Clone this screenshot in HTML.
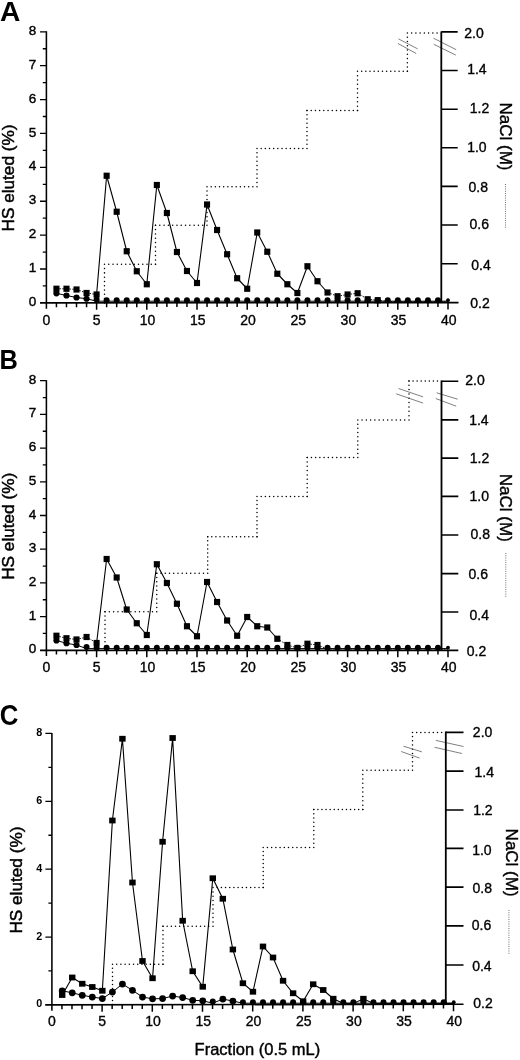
<!DOCTYPE html>
<html lang="en"><head><meta charset="utf-8"><title>HS elution profiles</title>
<style>html,body{margin:0;padding:0;background:#fff}svg{display:block}text{font-family:'Liberation Sans', sans-serif;fill:#000}</style>
</head><body>
<svg width="520" height="1060" viewBox="0 0 520 1060" style="will-change:transform">
<rect width="520" height="1060" fill="#fff"/>
<g>
<text transform="translate(0.1 21) scale(1.06 1.067)" font-size="26.6" font-weight="bold">A</text>
<g fill="none" stroke="#000" stroke-width="1.5" stroke-linecap="round"><path d="M104.5 302.9L104.5 264.3" stroke-dasharray="0.01 4.279"/><path d="M104.5 264.3L155.5 264.3" stroke-dasharray="0.01 4.240"/><path d="M155.5 264.3L155.5 225.2" stroke-dasharray="0.01 4.334"/><path d="M155.5 225.2L207 225.2" stroke-dasharray="0.01 4.282"/><path d="M207 225.2L207 186.8" stroke-dasharray="0.01 4.257"/><path d="M207 186.8L257 186.8" stroke-dasharray="0.01 4.157"/><path d="M257 186.8L257 148.5" stroke-dasharray="0.01 4.246"/><path d="M257 148.5L307 148.5" stroke-dasharray="0.01 4.157"/><path d="M307 148.5L307 110.5" stroke-dasharray="0.01 4.212"/><path d="M307 110.5L357.5 110.5" stroke-dasharray="0.01 4.198"/><path d="M357.5 110.5L357.5 71.3" stroke-dasharray="0.01 4.346"/><path d="M357.5 71.3L407.4 71.3" stroke-dasharray="0.01 4.148"/><path d="M407.4 71.3L407.4 33" stroke-dasharray="0.01 4.246"/><path d="M407.4 33L441.3 33" stroke-dasharray="0.01 4.228"/></g>
<line x1="433.5" y1="38.2" x2="456.2" y2="49.7" stroke="#555" stroke-width="0.75"/>
<line x1="433.8" y1="44.3" x2="455.8" y2="55.1" stroke="#555" stroke-width="0.75"/>
<line x1="398.5" y1="38.9" x2="417.7" y2="48.9" stroke="#555" stroke-width="0.75"/>
<line x1="398" y1="43.5" x2="416.2" y2="53.5" stroke="#555" stroke-width="0.75"/>
<line x1="46.4" y1="31.3" x2="46.4" y2="308.7" stroke="#000" stroke-width="1.55"/>
<line x1="40" y1="302.9" x2="458.5" y2="302.6" stroke="#000" stroke-width="1.65"/>
<line x1="441.3" y1="31.4" x2="441.3" y2="302.9" stroke="#000" stroke-width="1.8"/>
<path d="M42.8 285.96H46.4M40 269.01H46.4M42.8 252.07H46.4M40 235.12H46.4M42.8 218.18H46.4M40 201.24H46.4M42.8 184.29H46.4M40 167.35H46.4M42.8 150.41H46.4M40 133.46H46.4M42.8 116.52H46.4M40 99.57H46.4M42.8 82.63H46.4M40 65.69H46.4M42.8 48.74H46.4M40 31.8H46.4" stroke="#000" stroke-width="1.3" fill="none"/>
<path d="M56.44 302.89V307.19M66.48 302.88V307.18M76.52 302.87V307.17M86.56 302.87V307.17M96.6 302.86V309.86M106.64 302.85V307.15M116.68 302.85V307.15M126.72 302.84V307.14M136.76 302.83V307.13M146.8 302.82V309.82M156.84 302.82V307.12M166.88 302.81V307.11M176.92 302.8V307.1M186.96 302.79V307.09M197 302.79V309.79M207.04 302.78V307.08M217.08 302.77V307.07M227.12 302.77V307.07M237.16 302.76V307.06M247.2 302.75V309.75M257.24 302.74V307.04M267.28 302.74V307.04M277.32 302.73V307.03M287.36 302.72V307.02M297.4 302.72V309.72M307.44 302.71V307.01M317.48 302.7V307M327.52 302.69V306.99M337.56 302.69V306.99M347.6 302.68V309.68M357.64 302.67V306.97M367.68 302.67V306.97M377.72 302.66V306.96M387.76 302.65V306.95M397.8 302.64V309.64M407.84 302.64V306.94M417.88 302.63V306.93M427.92 302.62V306.92M437.96 302.61V306.91M448 302.61V309.61" stroke="#000" stroke-width="1.5" fill="none"/>
<path d="M441.3 263.7H457.7M441.3 225H457.7M441.3 186.4H457.7M441.3 147.8H457.7M441.3 109.2H457.7M441.3 70.5H457.7M441.3 31.9H457.7" stroke="#000" stroke-width="1.6" fill="none"/>
<g font-size="13.5" text-anchor="end" stroke="#000" stroke-width="0.4">
<text x="36.3" y="305.93">0</text>
<text x="36.3" y="272.05">1</text>
<text x="36.3" y="238.16">2</text>
<text x="36.3" y="204.27">3</text>
<text x="36.3" y="170.38">4</text>
<text x="36.3" y="136.5">5</text>
<text x="36.3" y="102.61">6</text>
<text x="36.3" y="68.72">7</text>
<text x="36.3" y="34.83">8</text>
</g>
<g font-size="14" text-anchor="middle" stroke="#000" stroke-width="0.35">
<text x="46.4" y="324.61">0</text>
<text x="96.6" y="324.61">5</text>
<text x="147.6" y="324.61">10</text>
<text x="197.8" y="324.61">15</text>
<text x="248" y="324.61">20</text>
<text x="298.2" y="324.61">25</text>
<text x="348.4" y="324.61">30</text>
<text x="398.6" y="324.61">35</text>
<text x="448.8" y="324.61">40</text>
</g>
<g font-size="14" stroke="#000" stroke-width="0.35">
<text x="470.26" y="307.5">0.2</text>
<text x="471.26" y="269.6">0.4</text>
<text x="469.54" y="228.9">0.6</text>
<text x="468.48" y="192.25">0.8</text>
<text x="467.17" y="152.4">1.0</text>
<text x="469.74" y="113.1">1.2</text>
<text x="467.17" y="74.35">1.4</text>
<text x="464.27" y="37.7">2.0</text>
</g>
<text transform="translate(13.8 178) rotate(-90)" font-size="17.2" text-anchor="middle" stroke="#000" stroke-width="0.45">HS eluted (%)</text>
<text transform="translate(500.3 136.5) rotate(90)" font-size="17" text-anchor="middle" stroke="#000" stroke-width="0.4">NaCl (M)</text>
<line x1="505.5" y1="183.9" x2="505.5" y2="228.4" stroke="#777" stroke-width="1.05" stroke-dasharray="1 1.25"/>
<polyline points="56.44,293.3 66.48,295.5 76.52,297.5 86.56,298.75 96.6,301.2 106.64,301.2 116.68,301.2 126.72,301.2 136.76,301.2 146.8,301.2 156.84,301.2 166.88,301.2 176.92,301.2 186.96,301.2 197,301.2 207.04,301.2 217.08,301.2 227.12,301.2 237.16,301.2 247.2,301.2 257.24,301.2 267.28,301.2 277.32,301.2 287.36,301.2 297.4,301.2 307.44,301.2 317.48,301.2 327.52,301.2 337.56,301.2 347.6,301.2 357.64,301.2 367.68,301.2 377.72,301.2 387.76,301.2 397.8,301.2 407.84,301.2 417.88,301.2 427.92,301.2 437.96,301.2 448,301.2" fill="none" stroke="#000" stroke-width="1"/>
<path d="M96.6 294.5L106.64 175.75M106.64 175.75L116.68 211.75M116.68 211.75L126.72 251.25M126.72 251.25L136.76 271.25M136.76 271.25L146.8 284.25M146.8 284.25L156.84 185M156.84 185L166.88 213M166.88 213L176.92 252M176.92 252L186.96 271M186.96 271L197 283M197 283L207.04 204.5M207.04 204.5L217.08 230M217.08 230L227.12 254.25M227.12 254.25L237.16 278.25M237.16 278.25L247.2 288.75M247.2 288.75L257.24 232.5M257.24 232.5L267.28 251.75M267.28 251.75L277.32 273.75M277.32 273.75L287.36 284.25M287.36 284.25L297.4 293M297.4 293L307.44 266.25M307.44 266.25L317.48 281.25M317.48 281.25L327.52 292.5" fill="none" stroke="#000" stroke-width="1.1"/>
<path d="M56.44 288.75L66.48 288.75M66.48 288.75L76.52 289.5M76.52 289.5L86.56 293M86.56 293L96.6 294.5M327.52 292.5L337.56 296.25M337.56 296.25L347.6 294.5M347.6 294.5L357.64 293.25M357.64 293.25L367.68 299.25M367.68 299.25L377.72 300.2M377.72 300.2L387.76 301.6M387.76 301.6L397.8 301.6M397.8 301.6L407.84 301.6M407.84 301.6L417.88 301.6M417.88 301.6L427.92 301.6M427.92 301.6L437.96 301.6M437.96 301.6L448 301.6" fill="none" stroke="#000" stroke-width="0.9" stroke-dasharray="1.6 1.3"/>
<circle cx="56.44" cy="293.3" r="3.1"/>
<circle cx="66.48" cy="295.5" r="3.1"/>
<circle cx="76.52" cy="297.5" r="3.1"/>
<circle cx="86.56" cy="298.75" r="3.1"/>
<circle cx="96.6" cy="299.4" r="3"/>
<circle cx="106.64" cy="300.2" r="3"/>
<circle cx="116.68" cy="300.2" r="3"/>
<circle cx="126.72" cy="300.2" r="3"/>
<circle cx="136.76" cy="300.2" r="3"/>
<circle cx="146.8" cy="300.2" r="3"/>
<circle cx="156.84" cy="300.2" r="3"/>
<circle cx="166.88" cy="300.2" r="3"/>
<circle cx="176.92" cy="300.2" r="3"/>
<circle cx="186.96" cy="300.2" r="3"/>
<circle cx="197" cy="300.2" r="3"/>
<circle cx="207.04" cy="300.2" r="3"/>
<circle cx="217.08" cy="300.2" r="3"/>
<circle cx="227.12" cy="300.2" r="3"/>
<circle cx="237.16" cy="300.2" r="3"/>
<circle cx="247.2" cy="300.2" r="3"/>
<circle cx="257.24" cy="300.2" r="3"/>
<circle cx="267.28" cy="300.2" r="3"/>
<circle cx="277.32" cy="300.2" r="3"/>
<circle cx="287.36" cy="300.2" r="3"/>
<circle cx="297.4" cy="300.2" r="3"/>
<circle cx="307.44" cy="300.2" r="3"/>
<circle cx="317.48" cy="300.2" r="3"/>
<circle cx="327.52" cy="300.2" r="3"/>
<circle cx="337.56" cy="300.2" r="3"/>
<circle cx="347.6" cy="300.2" r="3"/>
<circle cx="357.64" cy="300.2" r="3"/>
<circle cx="367.68" cy="300.2" r="3"/>
<circle cx="377.72" cy="300.2" r="3"/>
<circle cx="387.76" cy="300.2" r="3"/>
<circle cx="397.8" cy="300.2" r="3"/>
<circle cx="407.84" cy="300.2" r="3"/>
<circle cx="417.88" cy="300.2" r="3"/>
<circle cx="427.92" cy="300.2" r="3"/>
<circle cx="437.96" cy="300.2" r="3"/>
<circle cx="448" cy="300.2" r="1.9"/>
<rect x="53.39" y="285.65" width="6.1" height="6.2"/>
<rect x="63.43" y="285.65" width="6.1" height="6.2"/>
<rect x="73.47" y="286.4" width="6.1" height="6.2"/>
<rect x="83.51" y="289.9" width="6.1" height="6.2"/>
<rect x="93.55" y="291.4" width="6.1" height="6.2"/>
<rect x="103.59" y="172.65" width="6.1" height="6.2"/>
<rect x="113.63" y="208.65" width="6.1" height="6.2"/>
<rect x="123.67" y="248.15" width="6.1" height="6.2"/>
<rect x="133.71" y="268.15" width="6.1" height="6.2"/>
<rect x="143.75" y="281.15" width="6.1" height="6.2"/>
<rect x="153.79" y="181.9" width="6.1" height="6.2"/>
<rect x="163.83" y="209.9" width="6.1" height="6.2"/>
<rect x="173.87" y="248.9" width="6.1" height="6.2"/>
<rect x="183.91" y="267.9" width="6.1" height="6.2"/>
<rect x="193.95" y="279.9" width="6.1" height="6.2"/>
<rect x="203.99" y="201.4" width="6.1" height="6.2"/>
<rect x="214.03" y="226.9" width="6.1" height="6.2"/>
<rect x="224.07" y="251.15" width="6.1" height="6.2"/>
<rect x="234.11" y="275.15" width="6.1" height="6.2"/>
<rect x="244.15" y="285.65" width="6.1" height="6.2"/>
<rect x="254.19" y="229.4" width="6.1" height="6.2"/>
<rect x="264.23" y="248.65" width="6.1" height="6.2"/>
<rect x="274.27" y="270.65" width="6.1" height="6.2"/>
<rect x="284.31" y="281.15" width="6.1" height="6.2"/>
<rect x="294.35" y="289.9" width="6.1" height="6.2"/>
<rect x="304.39" y="263.15" width="6.1" height="6.2"/>
<rect x="314.43" y="278.15" width="6.1" height="6.2"/>
<rect x="324.47" y="289.4" width="6.1" height="6.2"/>
<rect x="334.51" y="293.15" width="6.1" height="6.2"/>
<rect x="344.55" y="291.4" width="6.1" height="6.2"/>
<rect x="354.59" y="290.15" width="6.1" height="6.2"/>
<rect x="364.63" y="296.15" width="6.1" height="6.2"/>
<rect x="374.67" y="297.1" width="6.1" height="6.2"/>
</g>
<g>
<text transform="translate(-0.45 368.6) scale(0.955 1.055)" font-size="26.6" font-weight="bold">B</text>
<g fill="none" stroke="#000" stroke-width="1.5" stroke-linecap="round"><path d="M105 650.3L105 611.75" stroke-dasharray="0.01 4.273"/><path d="M105 611.75L156.75 611.75" stroke-dasharray="0.01 4.303"/><path d="M156.75 611.75L156.75 573.2" stroke-dasharray="0.01 4.273"/><path d="M156.75 573.2L207.7 573.2" stroke-dasharray="0.01 4.236"/><path d="M207.7 573.2L207.7 536.8" stroke-dasharray="0.01 4.034"/><path d="M207.7 536.8L257 536.8" stroke-dasharray="0.01 4.098"/><path d="M257 536.8L257 496.5" stroke-dasharray="0.01 4.020"/><path d="M257 496.5L307.2 496.5" stroke-dasharray="0.01 4.173"/><path d="M307.2 496.5L307.2 457.6" stroke-dasharray="0.01 4.312"/><path d="M307.2 457.6L357.8 457.6" stroke-dasharray="0.01 4.207"/><path d="M357.8 457.6L357.8 420" stroke-dasharray="0.01 4.168"/><path d="M357.8 420L409 420" stroke-dasharray="0.01 4.257"/><path d="M409 420L409 380.9" stroke-dasharray="0.01 4.334"/><path d="M409 380.9L441.5 380.9" stroke-dasharray="0.01 4.053"/></g>
<line x1="436.6" y1="392.8" x2="457.7" y2="399.2" stroke="#555" stroke-width="0.75"/>
<line x1="435.8" y1="398.5" x2="456.2" y2="406.2" stroke="#555" stroke-width="0.75"/>
<line x1="398.5" y1="388.5" x2="423.1" y2="396.9" stroke="#555" stroke-width="0.75"/>
<line x1="396.2" y1="393.8" x2="423.1" y2="403.1" stroke="#555" stroke-width="0.75"/>
<line x1="46.4" y1="380.2" x2="46.4" y2="656.1" stroke="#000" stroke-width="1.55"/>
<line x1="40" y1="650.3" x2="458.3" y2="650.3" stroke="#000" stroke-width="1.65"/>
<line x1="441.5" y1="380.5" x2="441.5" y2="650.3" stroke="#000" stroke-width="1.8"/>
<path d="M42.8 633.45H46.4M40 616.6H46.4M42.8 599.75H46.4M40 582.9H46.4M42.8 566.05H46.4M40 549.2H46.4M42.8 532.35H46.4M40 515.5H46.4M42.8 498.65H46.4M40 481.8H46.4M42.8 464.95H46.4M40 448.1H46.4M42.8 431.25H46.4M40 414.4H46.4M42.8 397.55H46.4M40 380.7H46.4" stroke="#000" stroke-width="1.3" fill="none"/>
<path d="M56.44 650.3V654.6M66.48 650.3V654.6M76.52 650.3V654.6M86.56 650.3V654.6M96.6 650.3V657.3M106.64 650.3V654.6M116.68 650.3V654.6M126.72 650.3V654.6M136.76 650.3V654.6M146.8 650.3V657.3M156.84 650.3V654.6M166.88 650.3V654.6M176.92 650.3V654.6M186.96 650.3V654.6M197 650.3V657.3M207.04 650.3V654.6M217.08 650.3V654.6M227.12 650.3V654.6M237.16 650.3V654.6M247.2 650.3V657.3M257.24 650.3V654.6M267.28 650.3V654.6M277.32 650.3V654.6M287.36 650.3V654.6M297.4 650.3V657.3M307.44 650.3V654.6M317.48 650.3V654.6M327.52 650.3V654.6M337.56 650.3V654.6M347.6 650.3V657.3M357.64 650.3V654.6M367.68 650.3V654.6M377.72 650.3V654.6M387.76 650.3V654.6M397.8 650.3V657.3M407.84 650.3V654.6M417.88 650.3V654.6M427.92 650.3V654.6M437.96 650.3V654.6M448 650.3V657.3" stroke="#000" stroke-width="1.5" fill="none"/>
<path d="M441.5 612H458.3M441.5 573.6H458.3M441.5 535H458.3M441.5 496.4H458.3M441.5 458.1H458.3M441.5 419.9H458.3M441.5 381.2H458.3" stroke="#000" stroke-width="1.6" fill="none"/>
<g font-size="13.5" text-anchor="end" stroke="#000" stroke-width="0.4">
<text x="36.3" y="653.33">0</text>
<text x="36.3" y="619.63">1</text>
<text x="36.3" y="585.93">2</text>
<text x="36.3" y="552.23">3</text>
<text x="36.3" y="518.53">4</text>
<text x="36.3" y="484.83">5</text>
<text x="36.3" y="451.13">6</text>
<text x="36.3" y="417.43">7</text>
<text x="36.3" y="383.73">8</text>
</g>
<g font-size="14" text-anchor="middle" stroke="#000" stroke-width="0.35">
<text x="46.4" y="672.21">0</text>
<text x="96.6" y="672.21">5</text>
<text x="147.6" y="672.21">10</text>
<text x="197.8" y="672.21">15</text>
<text x="248" y="672.21">20</text>
<text x="298.2" y="672.21">25</text>
<text x="348.4" y="672.21">30</text>
<text x="398.6" y="672.21">35</text>
<text x="448.8" y="672.21">40</text>
</g>
<g font-size="14" stroke="#000" stroke-width="0.35">
<text x="466.79" y="655.7">0.2</text>
<text x="469.54" y="620.15">0.4</text>
<text x="468.54" y="578.7">0.6</text>
<text x="470.59" y="539.4">0.8</text>
<text x="469.58" y="500.9">1.0</text>
<text x="469.74" y="462.9">1.2</text>
<text x="469.17" y="425.3">1.4</text>
<text x="465.27" y="385">2.0</text>
</g>
<text transform="translate(13.8 526.3) rotate(-90)" font-size="17.2" text-anchor="middle" stroke="#000" stroke-width="0.45">HS eluted (%)</text>
<text transform="translate(500.3 507.8) rotate(90)" font-size="17" text-anchor="middle" stroke="#000" stroke-width="0.4">NaCl (M)</text>
<line x1="505.8" y1="553" x2="505.8" y2="598.1" stroke="#777" stroke-width="1.05" stroke-dasharray="1 1.25"/>
<polyline points="56.44,640.5 66.48,643.25 76.52,645 86.56,648.6 96.6,648.6 106.64,648.6 116.68,648.6 126.72,648.6 136.76,648.6 146.8,648.6 156.84,648.6 166.88,648.6 176.92,648.6 186.96,648.6 197,648.6 207.04,648.6 217.08,648.6 227.12,648.6 237.16,648.6 247.2,648.6 257.24,648.6 267.28,648.6 277.32,648.6 287.36,648.6 297.4,648.6 307.44,648.6 317.48,648.6 327.52,648.6 337.56,648.6 347.6,648.6 357.64,648.6 367.68,648.6 377.72,648.6 387.76,648.6 397.8,648.6 407.84,648.6 417.88,648.6 427.92,648.6 437.96,648.6 448,648.6" fill="none" stroke="#000" stroke-width="1"/>
<path d="M96.6 643L106.64 559M106.64 559L116.68 577.5M116.68 577.5L126.72 609.5M126.72 609.5L136.76 623.25M136.76 623.25L146.8 635M146.8 635L156.84 564.25M156.84 564.25L166.88 583M166.88 583L176.92 603.75M176.92 603.75L186.96 626.25M186.96 626.25L197 636.25M197 636.25L207.04 582M207.04 582L217.08 602M217.08 602L227.12 620.5M227.12 620.5L237.16 635.75M237.16 635.75L247.2 617M247.2 617L257.24 626.25M257.24 626.25L267.28 627.5M267.28 627.5L277.32 638.75" fill="none" stroke="#000" stroke-width="1.1"/>
<path d="M56.44 635.75L66.48 638.25M66.48 638.25L76.52 639.5M76.52 639.5L86.56 637M86.56 637L96.6 643M277.32 638.75L287.36 645M287.36 645L297.4 648M297.4 648L307.44 643.75M307.44 643.75L317.48 645M317.48 645L327.52 649M327.52 649L337.56 649M337.56 649L347.6 649M347.6 649L357.64 649M357.64 649L367.68 649M367.68 649L377.72 649M377.72 649L387.76 649M387.76 649L397.8 649M397.8 649L407.84 649M407.84 649L417.88 649M417.88 649L427.92 649M427.92 649L437.96 649M437.96 649L448 649" fill="none" stroke="#000" stroke-width="0.9" stroke-dasharray="1.6 1.3"/>
<circle cx="56.44" cy="640.5" r="3.1"/>
<circle cx="66.48" cy="643.25" r="3.1"/>
<circle cx="76.52" cy="645" r="3.1"/>
<circle cx="86.56" cy="647" r="3"/>
<circle cx="96.6" cy="647.7" r="3"/>
<circle cx="106.64" cy="647.7" r="3"/>
<circle cx="116.68" cy="647.7" r="3"/>
<circle cx="126.72" cy="647.7" r="3"/>
<circle cx="136.76" cy="647.7" r="3"/>
<circle cx="146.8" cy="647.7" r="3"/>
<circle cx="156.84" cy="647.7" r="3"/>
<circle cx="166.88" cy="647.7" r="3"/>
<circle cx="176.92" cy="647.7" r="3"/>
<circle cx="186.96" cy="647.7" r="3"/>
<circle cx="197" cy="647.7" r="3"/>
<circle cx="207.04" cy="647.7" r="3"/>
<circle cx="217.08" cy="647.7" r="3"/>
<circle cx="227.12" cy="647.7" r="3"/>
<circle cx="237.16" cy="647.7" r="3"/>
<circle cx="247.2" cy="647.7" r="3"/>
<circle cx="257.24" cy="647.7" r="3"/>
<circle cx="267.28" cy="647.7" r="3"/>
<circle cx="277.32" cy="647.7" r="3"/>
<circle cx="287.36" cy="647.7" r="3"/>
<circle cx="297.4" cy="647.7" r="3"/>
<circle cx="307.44" cy="647.7" r="3"/>
<circle cx="317.48" cy="647.7" r="3"/>
<circle cx="327.52" cy="647.7" r="3"/>
<circle cx="337.56" cy="647.7" r="3"/>
<circle cx="347.6" cy="647.7" r="3"/>
<circle cx="357.64" cy="647.7" r="3"/>
<circle cx="367.68" cy="647.7" r="3"/>
<circle cx="377.72" cy="647.7" r="3"/>
<circle cx="387.76" cy="647.7" r="3"/>
<circle cx="397.8" cy="647.7" r="3"/>
<circle cx="407.84" cy="647.7" r="3"/>
<circle cx="417.88" cy="647.7" r="3"/>
<circle cx="427.92" cy="647.7" r="3"/>
<circle cx="437.96" cy="647.7" r="3"/>
<circle cx="448" cy="647.7" r="1.9"/>
<rect x="53.39" y="632.65" width="6.1" height="6.2"/>
<rect x="63.43" y="635.15" width="6.1" height="6.2"/>
<rect x="73.47" y="636.4" width="6.1" height="6.2"/>
<rect x="83.51" y="633.9" width="6.1" height="6.2"/>
<rect x="93.55" y="639.9" width="6.1" height="6.2"/>
<rect x="103.59" y="555.9" width="6.1" height="6.2"/>
<rect x="113.63" y="574.4" width="6.1" height="6.2"/>
<rect x="123.67" y="606.4" width="6.1" height="6.2"/>
<rect x="133.71" y="620.15" width="6.1" height="6.2"/>
<rect x="143.75" y="631.9" width="6.1" height="6.2"/>
<rect x="153.79" y="561.15" width="6.1" height="6.2"/>
<rect x="163.83" y="579.9" width="6.1" height="6.2"/>
<rect x="173.87" y="600.65" width="6.1" height="6.2"/>
<rect x="183.91" y="623.15" width="6.1" height="6.2"/>
<rect x="193.95" y="633.15" width="6.1" height="6.2"/>
<rect x="203.99" y="578.9" width="6.1" height="6.2"/>
<rect x="214.03" y="598.9" width="6.1" height="6.2"/>
<rect x="224.07" y="617.4" width="6.1" height="6.2"/>
<rect x="234.11" y="632.65" width="6.1" height="6.2"/>
<rect x="244.15" y="613.9" width="6.1" height="6.2"/>
<rect x="254.19" y="623.15" width="6.1" height="6.2"/>
<rect x="264.23" y="624.4" width="6.1" height="6.2"/>
<rect x="274.27" y="635.65" width="6.1" height="6.2"/>
<rect x="284.31" y="641.9" width="6.1" height="6.2"/>
<rect x="294.35" y="644.9" width="6.1" height="6.2"/>
<rect x="304.39" y="640.65" width="6.1" height="6.2"/>
<rect x="314.43" y="641.9" width="6.1" height="6.2"/>
</g>
<g>
<text transform="translate(-0.26 724.7) scale(0.97 1.1)" font-size="26.6" font-weight="bold">C</text>
<g fill="none" stroke="#000" stroke-width="1.5" stroke-linecap="round"><path d="M112.5 1004.6L112.5 964.3" stroke-dasharray="0.01 4.020"/><path d="M112.5 964.3L163 964.3" stroke-dasharray="0.01 4.198"/><path d="M163 964.3L163 926.2" stroke-dasharray="0.01 4.223"/><path d="M163 926.2L213 926.2" stroke-dasharray="0.01 4.157"/><path d="M213 926.2L213 887.6" stroke-dasharray="0.01 4.279"/><path d="M213 887.6L263.2 887.6" stroke-dasharray="0.01 4.173"/><path d="M263.2 887.6L263.2 847.4" stroke-dasharray="0.01 4.010"/><path d="M263.2 847.4L313.8 847.4" stroke-dasharray="0.01 4.207"/><path d="M313.8 847.4L313.8 809.6" stroke-dasharray="0.01 4.190"/><path d="M313.8 809.6L362.8 809.6" stroke-dasharray="0.01 4.073"/><path d="M362.8 809.6L362.8 770.2" stroke-dasharray="0.01 4.368"/><path d="M362.8 770.2L412.5 770.2" stroke-dasharray="0.01 4.132"/><path d="M412.5 770.2L412.5 732.4" stroke-dasharray="0.01 4.190"/><path d="M412.5 732.4L445.8 732.4" stroke-dasharray="0.01 4.153"/></g>
<line x1="435.8" y1="740.4" x2="463.5" y2="746.5" stroke="#555" stroke-width="0.75"/>
<line x1="434.7" y1="747.3" x2="461.9" y2="753.5" stroke="#555" stroke-width="0.75"/>
<line x1="403.5" y1="746.2" x2="421.9" y2="751.9" stroke="#555" stroke-width="0.75"/>
<line x1="401.2" y1="751.5" x2="419.6" y2="758.1" stroke="#555" stroke-width="0.75"/>
<line x1="51.9" y1="732.95" x2="51.9" y2="1010.7" stroke="#000" stroke-width="1.55"/>
<line x1="45.2" y1="1004.9" x2="463.5" y2="1004.2" stroke="#000" stroke-width="1.65"/>
<line x1="445.8" y1="731.6" x2="445.8" y2="1004.9" stroke="#000" stroke-width="1.8"/>
<path d="M48.4 970.97H51.9M45.4 937.04H51.9M48.4 903.11H51.9M45.4 869.17H51.9M48.4 835.24H51.9M45.4 801.31H51.9M48.4 767.38H51.9M45.4 733.45H51.9" stroke="#000" stroke-width="1.3" fill="none"/>
<path d="M61.94 1004.87V1009.17M71.98 1004.86V1009.16M82.02 1004.84V1009.14M92.06 1004.82V1009.12M102.1 1004.8V1011.8M112.14 1004.79V1009.09M122.18 1004.77V1009.07M132.22 1004.75V1009.05M142.26 1004.74V1009.04M152.3 1004.72V1011.72M162.34 1004.7V1009M172.38 1004.69V1008.99M182.42 1004.67V1008.97M192.46 1004.65V1008.95M202.5 1004.64V1011.64M212.54 1004.62V1008.92M222.58 1004.6V1008.9M232.62 1004.59V1008.89M242.66 1004.57V1008.87M252.7 1004.55V1011.55M262.74 1004.54V1008.84M272.78 1004.52V1008.82M282.82 1004.5V1008.8M292.86 1004.49V1008.79M302.9 1004.47V1011.47M312.94 1004.45V1008.75M322.98 1004.44V1008.74M333.02 1004.42V1008.72M343.06 1004.4V1008.7M353.1 1004.38V1011.38M363.14 1004.37V1008.67M373.18 1004.35V1008.65M383.22 1004.33V1008.63M393.26 1004.32V1008.62M403.3 1004.3V1011.3M413.34 1004.28V1008.58M423.38 1004.27V1008.57M433.42 1004.25V1008.55M443.46 1004.23V1008.53M453.5 1004.22V1011.22" stroke="#000" stroke-width="1.5" fill="none"/>
<path d="M445.8 965H463.5M445.8 925.9H463.5M445.8 887.1H463.5M445.8 848.4H463.5M445.8 810H463.5M445.8 771.1H463.5M445.8 732.4H463.5" stroke="#000" stroke-width="1.6" fill="none"/>
<g font-size="10.8" text-anchor="end" font-weight="bold" stroke="#000" stroke-width="0">
<text x="42.2" y="1007.42">0</text>
<text x="42.2" y="939.55">2</text>
<text x="42.2" y="871.69">4</text>
<text x="42.2" y="803.83">6</text>
<text x="42.2" y="735.97">8</text>
</g>
<g font-size="14" text-anchor="middle" stroke="#000" stroke-width="0.35">
<text x="51.9" y="1026.31">0</text>
<text x="102.1" y="1026.31">5</text>
<text x="153.1" y="1026.31">10</text>
<text x="203.3" y="1026.31">15</text>
<text x="253.5" y="1026.31">20</text>
<text x="303.7" y="1026.31">25</text>
<text x="353.9" y="1026.31">30</text>
<text x="404.1" y="1026.31">35</text>
<text x="454.3" y="1026.31">40</text>
</g>
<g font-size="14" stroke="#000" stroke-width="0.35">
<text x="473.29" y="1008">0.2</text>
<text x="472.19" y="971.1">0.4</text>
<text x="471.79" y="929.9">0.6</text>
<text x="472.48" y="892.7">0.8</text>
<text x="472.17" y="854.5">1.0</text>
<text x="473.17" y="815.4">1.2</text>
<text x="474.58" y="776.7">1.4</text>
<text x="472.85" y="737.1">2.0</text>
</g>
<text transform="translate(21.6 880.1) rotate(-90)" font-size="17.2" text-anchor="middle" stroke="#000" stroke-width="0.45">HS eluted (%)</text>
<text transform="translate(505.5 862.6) rotate(90)" font-size="17" text-anchor="middle" stroke="#000" stroke-width="0.4">NaCl (M)</text>
<line x1="508.9" y1="910.1" x2="508.9" y2="955" stroke="#777" stroke-width="1.05" stroke-dasharray="1 1.25"/>
<polyline points="62.19,990.8 72.23,992.8 82.27,995.3 92.31,997.05 102.35,998.55 112.39,992.05 122.43,984.05 132.47,990.3 142.51,997.05 152.55,998.8 162.59,998.55 172.63,996.05 182.67,997.55 192.71,1000.3 202.75,1000.8 212.79,1003.2 222.83,999.05 232.87,1001.05 242.91,1003.2 252.95,1003.2 262.99,1003.2 273.03,1003.2 283.07,1003.2 293.11,1003.2 303.15,1003.2 313.19,1003.2 323.23,1003.2 333.27,1003.2 343.31,1003.2 353.35,1003.2 363.39,1003.2 373.43,1003.2 383.47,1003.2 393.51,1003.2 403.55,1003.2 413.59,1003.2 423.63,1003.2 433.67,1003.2 443.71,1003.2 453.75,1003.2" fill="none" stroke="#000" stroke-width="1"/>
<polyline points="62.19,995 72.23,977.5 82.27,983.75 92.31,987 102.35,990.75 112.39,820.5 122.43,738.75 132.47,882.5 142.51,961 152.55,978.25 162.59,841.75 172.63,738 182.67,920.75 192.71,971.25 202.75,986.75 212.79,878.25 222.83,898.75 232.87,949.5 242.91,983.25 252.95,991.75 262.99,946.5 273.03,957.5 283.07,980.75 293.11,993.25 303.15,1001.25 313.19,984.25 323.23,990 333.27,998.75 343.31,1003.4 353.35,1003.4 363.39,998.75 373.43,1003.4 383.47,1003.4 393.51,1003.4 403.55,1003.4 413.59,1003.4 423.63,1003.4 433.67,1003.4 443.71,1003.4 453.75,1003.4" fill="none" stroke="#000" stroke-width="1.1"/>
<circle cx="62.19" cy="990.8" r="3.4"/>
<circle cx="72.23" cy="992.8" r="3.4"/>
<circle cx="82.27" cy="995.3" r="3.4"/>
<circle cx="92.31" cy="997.05" r="3.4"/>
<circle cx="102.35" cy="998.55" r="3.4"/>
<circle cx="112.39" cy="992.05" r="3.4"/>
<circle cx="122.43" cy="984.05" r="3.4"/>
<circle cx="132.47" cy="990.3" r="3.4"/>
<circle cx="142.51" cy="997.05" r="3.4"/>
<circle cx="152.55" cy="998.8" r="3.4"/>
<circle cx="162.59" cy="998.55" r="3.4"/>
<circle cx="172.63" cy="996.05" r="3.4"/>
<circle cx="182.67" cy="997.55" r="3.4"/>
<circle cx="192.71" cy="1000.3" r="3.4"/>
<circle cx="202.75" cy="1000.8" r="3.4"/>
<circle cx="212.79" cy="1001.55" r="3"/>
<circle cx="222.83" cy="999.05" r="3.4"/>
<circle cx="232.87" cy="1001.05" r="3.4"/>
<circle cx="242.91" cy="1002.2" r="3"/>
<circle cx="252.95" cy="1002.2" r="3"/>
<circle cx="262.99" cy="1002.2" r="3"/>
<circle cx="273.03" cy="1002.2" r="3"/>
<circle cx="283.07" cy="1002.2" r="3"/>
<circle cx="293.11" cy="1002.2" r="3"/>
<circle cx="303.15" cy="1002.2" r="3"/>
<circle cx="313.19" cy="1002.2" r="3"/>
<circle cx="323.23" cy="1002.2" r="3"/>
<circle cx="333.27" cy="1002.2" r="3"/>
<circle cx="343.31" cy="1002.2" r="3"/>
<circle cx="353.35" cy="1002.2" r="3"/>
<circle cx="363.39" cy="1002.2" r="3"/>
<circle cx="373.43" cy="1002.2" r="3"/>
<circle cx="383.47" cy="1002.2" r="3"/>
<circle cx="393.51" cy="1002.2" r="3"/>
<circle cx="403.55" cy="1002.2" r="3"/>
<circle cx="413.59" cy="1002.2" r="3"/>
<circle cx="423.63" cy="1002.2" r="3"/>
<circle cx="433.67" cy="1002.2" r="3"/>
<circle cx="443.71" cy="1002.2" r="3"/>
<circle cx="453.75" cy="1002.2" r="1.9"/>
<rect x="58.99" y="992.1" width="6.4" height="5.8"/>
<rect x="69.03" y="974.6" width="6.4" height="5.8"/>
<rect x="79.07" y="980.85" width="6.4" height="5.8"/>
<rect x="89.11" y="984.1" width="6.4" height="5.8"/>
<rect x="99.15" y="987.85" width="6.4" height="5.8"/>
<rect x="109.19" y="817.6" width="6.4" height="5.8"/>
<rect x="119.23" y="735.85" width="6.4" height="5.8"/>
<rect x="129.27" y="879.6" width="6.4" height="5.8"/>
<rect x="139.31" y="958.1" width="6.4" height="5.8"/>
<rect x="149.35" y="975.35" width="6.4" height="5.8"/>
<rect x="159.39" y="838.85" width="6.4" height="5.8"/>
<rect x="169.43" y="735.1" width="6.4" height="5.8"/>
<rect x="179.47" y="917.85" width="6.4" height="5.8"/>
<rect x="189.51" y="968.35" width="6.4" height="5.8"/>
<rect x="199.55" y="983.85" width="6.4" height="5.8"/>
<rect x="209.59" y="875.35" width="6.4" height="5.8"/>
<rect x="219.63" y="895.85" width="6.4" height="5.8"/>
<rect x="229.67" y="946.6" width="6.4" height="5.8"/>
<rect x="239.71" y="980.35" width="6.4" height="5.8"/>
<rect x="249.75" y="988.85" width="6.4" height="5.8"/>
<rect x="259.79" y="943.6" width="6.4" height="5.8"/>
<rect x="269.83" y="954.6" width="6.4" height="5.8"/>
<rect x="279.87" y="977.85" width="6.4" height="5.8"/>
<rect x="289.91" y="990.35" width="6.4" height="5.8"/>
<rect x="299.95" y="998.35" width="6.4" height="5.8"/>
<rect x="309.99" y="981.35" width="6.4" height="5.8"/>
<rect x="320.03" y="987.1" width="6.4" height="5.8"/>
<rect x="330.07" y="995.85" width="6.4" height="5.8"/>
<rect x="360.19" y="995.85" width="6.4" height="5.8"/>
</g>
<text x="257.4" y="1055.2" font-size="16.5" text-anchor="middle" stroke="#000" stroke-width="0.4">Fraction (0.5 mL)</text>
</svg></body></html>
